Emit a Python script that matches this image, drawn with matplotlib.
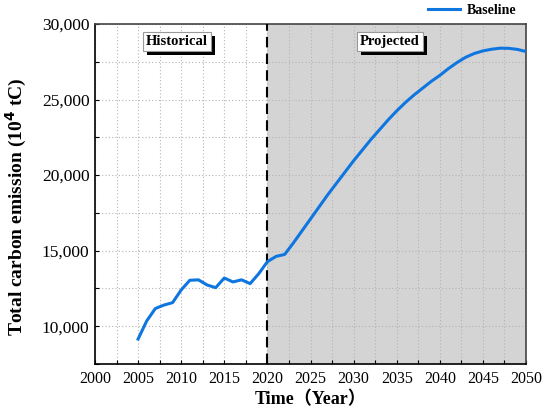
import matplotlib
matplotlib.use('Agg')
import matplotlib.pyplot as plt
import matplotlib.patheffects as pe
from matplotlib.ticker import MultipleLocator, FuncFormatter

plt.rcParams['font.family'] = ['Liberation Serif', 'Noto Sans CJK SC', 'DejaVu Sans']

# Historical + projected emissions (10^4 tC)
years = list(range(2005, 2051))
emission = [9150, 10350, 11170, 11400, 11560, 12400, 13040, 13070, 12730, 12550,
            13190, 12930, 13070, 12820, 13480, 14270, 14620, 14750, 15500, 16300,
            17100, 17900, 18700, 19450, 20200, 20950, 21650, 22350, 23000, 23650,
            24250, 24800, 25300, 25750, 26200, 26600, 27050, 27450, 27800, 28050,
            28220, 28330, 28400, 28390, 28320, 28180]
split_year = 2020
period_labels = ['Historical', 'Projected']
period_x = [2009.5, 2034.2]

fig = plt.figure(figsize=(5.5, 4.19), dpi=100)
ax = fig.add_axes([0.1727, 0.1313, 0.7837, 0.8114])

ax.axvspan(split_year, 2050, color='#d4d4d4', zorder=0, lw=0)
ax.axvline(split_year, color='black', ls=(0, (5, 3)), lw=1.5, zorder=3)
ax.plot(years, emission, color='#0f76e0', lw=2.2, label='Baseline', zorder=4)

ax.set_xlim(2000, 2050)
ax.set_ylim(7500, 30000)
ax.xaxis.set_major_locator(MultipleLocator(5))
ax.xaxis.set_minor_locator(MultipleLocator(2.5))
ax.yaxis.set_major_locator(MultipleLocator(5000))
ax.yaxis.set_minor_locator(MultipleLocator(2500))
ax.yaxis.set_major_formatter(FuncFormatter(lambda v, p: f'{int(v):,}'))
ax.grid(True, which='both', color='#b4b4b4', ls=(0, (1, 2)), lw=0.8, zorder=1)
ax.set_axisbelow(True)
ax.tick_params(which='both', direction='in', length=3, width=0.8)
ax.tick_params(axis='x', labelsize=11.5, pad=5)
ax.tick_params(axis='y', labelsize=12.5, pad=4)

for side in ['top', 'right']:
    ax.spines[side].set_color('#444444')
for s in ax.spines.values():
    s.set_linewidth(1.2)

ax.set_xlabel('Time（Year）', fontsize=13, fontweight='bold', labelpad=3)
ax.set_ylabel('Total carbon emission (10$^{\\mathbf{4}}$ tC)', fontsize=14,
              fontweight='bold')
ax.yaxis.set_label_coords(-0.152, 0.462)

for lab, xp in zip(period_labels, period_x):
    t = ax.text(xp, 28850, lab, fontsize=10.5, fontweight='bold', ha='center',
                va='center', zorder=5,
                bbox=dict(boxstyle='square,pad=0.2', fc='white', ec='#999999', lw=0.8))
    t.get_bbox_patch().set_path_effects([
        pe.SimplePatchShadow(offset=(3, -3), shadow_rgbFace='black', alpha=1),
        pe.Normal()])

leg = ax.legend(loc='upper right', bbox_to_anchor=(0.99, 1.075), frameon=False,
                prop={'weight': 'bold', 'size': 10}, handlelength=2.3,
                handletextpad=0.5, borderaxespad=0)

fig.savefig('out.png', dpi=100)
